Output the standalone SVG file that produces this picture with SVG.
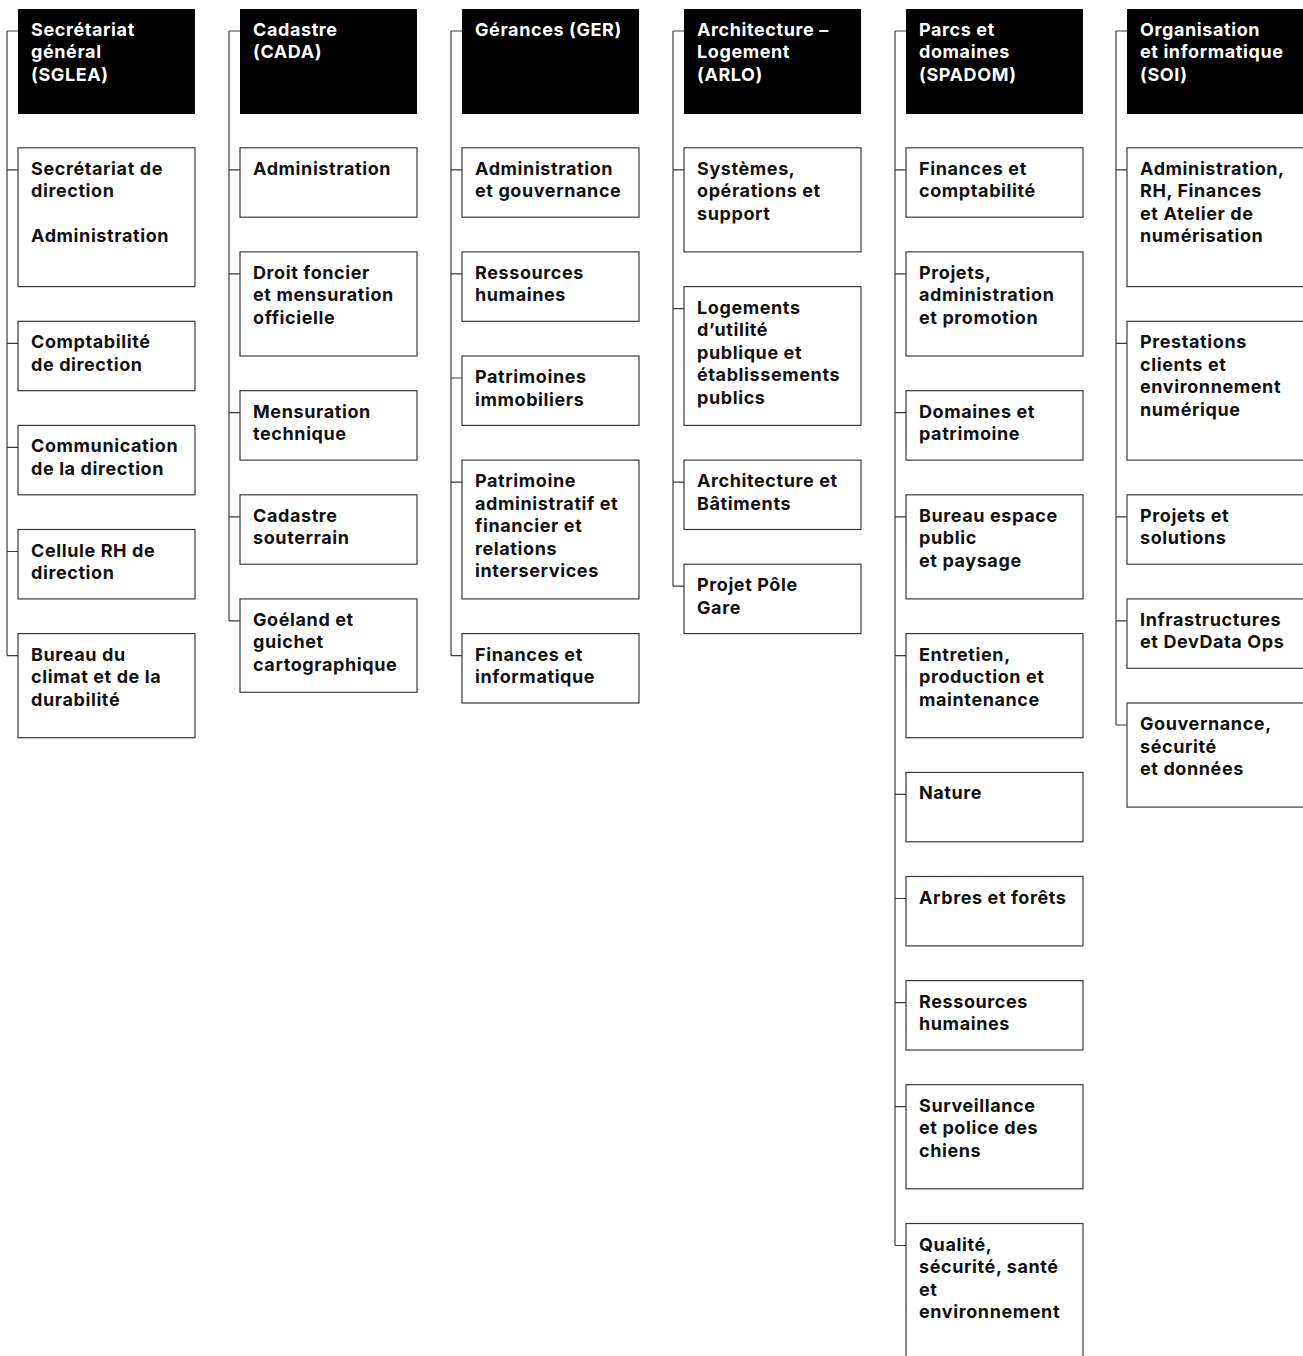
<svg xmlns="http://www.w3.org/2000/svg" width="1303" height="1356" viewBox="0 0 1303 1356">
<style>
.hd{fill:#000}
.bx{fill:#fff;stroke:#3a3a3a;stroke-width:1.2}
.ln{fill:none;stroke:#3a3a3a;stroke-width:1.2}
text{font-family:Inter,"Liberation Sans",sans-serif;font-weight:700;font-size:18px;letter-spacing:0.6px}
.w{fill:#fff}
.k{fill:#111}
</style>
<rect width="1303" height="1356" fill="#fff"/>
<g id="connectors">
<path class="ln" d="M7,31V655.6M7,31H18M7,169.8H18M7,343.3H18M7,447.4H18M7,551.5H18M7,655.6H18"/>
<path class="ln" d="M229,31V620.9M229,31H240M229,169.8H240M229,273.9H240M229,412.7H240M229,516.8H240M229,620.9H240"/>
<path class="ln" d="M451,31V655.6M451,31H462M451,169.8H462M451,273.9H462M451,378H462M451,482.1H462M451,655.6H462"/>
<path class="ln" d="M673,31V586.2M673,31H684M673,169.8H684M673,308.6H684M673,482.1H684M673,586.2H684"/>
<path class="ln" d="M895,31V1245.5M895,31H906M895,169.8H906M895,273.9H906M895,412.7H906M895,516.8H906M895,655.6H906M895,794.4H906M895,898.5H906M895,1002.6H906M895,1106.7H906M895,1245.5H906"/>
<path class="ln" d="M1116,31V725M1116,31H1127M1116,169.8H1127M1116,343.3H1127M1116,516.8H1127M1116,620.9H1127M1116,725H1127"/>
</g>
<!-- Column 1 -->
<g id="sglea"><rect class="hd" x="18" y="9" width="177" height="105"/><text class="w"><tspan x="31" y="35.5">Secrétariat</tspan><tspan x="31" y="58">général</tspan><tspan x="31" y="80.5">(SGLEA)</tspan></text></g>
<g id="sglea-1"><rect class="bx" x="18" y="147.8" width="177" height="138.8"/><text class="k"><tspan x="31" y="174.8">Secrétariat de</tspan><tspan x="31" y="197.3">direction</tspan><tspan x="31" y="242.3">Administration</tspan></text></g>
<g id="sglea-2"><rect class="bx" x="18" y="321.3" width="177" height="69.4"/><text class="k"><tspan x="31" y="348.3">Comptabilité</tspan><tspan x="31" y="370.8">de direction</tspan></text></g>
<g id="sglea-3"><rect class="bx" x="18" y="425.4" width="177" height="69.4"/><text class="k"><tspan x="31" y="452.4">Communication</tspan><tspan x="31" y="474.9">de la direction</tspan></text></g>
<g id="sglea-4"><rect class="bx" x="18" y="529.5" width="177" height="69.4"/><text class="k"><tspan x="31" y="556.5">Cellule RH de</tspan><tspan x="31" y="579">direction</tspan></text></g>
<g id="sglea-5"><rect class="bx" x="18" y="633.6" width="177" height="104.1"/><text class="k"><tspan x="31" y="660.6">Bureau du</tspan><tspan x="31" y="683.1">climat et de la</tspan><tspan x="31" y="705.6">durabilité</tspan></text></g>
<!-- Column 2 -->
<g id="cada"><rect class="hd" x="240" y="9" width="177" height="105"/><text class="w"><tspan x="253" y="35.5">Cadastre</tspan><tspan x="253" y="58">(CADA)</tspan></text></g>
<g id="cada-1"><rect class="bx" x="240" y="147.8" width="177" height="69.4"/><text class="k"><tspan x="253" y="174.8">Administration</tspan></text></g>
<g id="cada-2"><rect class="bx" x="240" y="251.9" width="177" height="104.1"/><text class="k"><tspan x="253" y="278.9">Droit foncier</tspan><tspan x="253" y="301.4">et mensuration</tspan><tspan x="253" y="323.9">officielle</tspan></text></g>
<g id="cada-3"><rect class="bx" x="240" y="390.7" width="177" height="69.4"/><text class="k"><tspan x="253" y="417.7">Mensuration</tspan><tspan x="253" y="440.2">technique</tspan></text></g>
<g id="cada-4"><rect class="bx" x="240" y="494.8" width="177" height="69.4"/><text class="k"><tspan x="253" y="521.8">Cadastre</tspan><tspan x="253" y="544.3">souterrain</tspan></text></g>
<g id="cada-5"><rect class="bx" x="240" y="598.9" width="177" height="93.4"/><text class="k"><tspan x="253" y="625.9">Goéland et</tspan><tspan x="253" y="648.4">guichet</tspan><tspan x="253" y="670.9">cartographique</tspan></text></g>
<!-- Column 3 -->
<g id="ger"><rect class="hd" x="462" y="9" width="177" height="105"/><text class="w"><tspan x="475" y="35.5">Gérances (GER)</tspan></text></g>
<g id="ger-1"><rect class="bx" x="462" y="147.8" width="177" height="69.4"/><text class="k"><tspan x="475" y="174.8">Administration</tspan><tspan x="475" y="197.3">et gouvernance</tspan></text></g>
<g id="ger-2"><rect class="bx" x="462" y="251.9" width="177" height="69.4"/><text class="k"><tspan x="475" y="278.9">Ressources</tspan><tspan x="475" y="301.4">humaines</tspan></text></g>
<g id="ger-3"><rect class="bx" x="462" y="356" width="177" height="69.4"/><text class="k"><tspan x="475" y="383">Patrimoines</tspan><tspan x="475" y="405.5">immobiliers</tspan></text></g>
<g id="ger-4"><rect class="bx" x="462" y="460.1" width="177" height="138.8"/><text class="k"><tspan x="475" y="487.1">Patrimoine</tspan><tspan x="475" y="509.6">administratif et</tspan><tspan x="475" y="532.1">financier et</tspan><tspan x="475" y="554.6">relations</tspan><tspan x="475" y="577.1">interservices</tspan></text></g>
<g id="ger-5"><rect class="bx" x="462" y="633.6" width="177" height="69.4"/><text class="k"><tspan x="475" y="660.6">Finances et</tspan><tspan x="475" y="683.1">informatique</tspan></text></g>
<!-- Column 4 -->
<g id="arlo"><rect class="hd" x="684" y="9" width="177" height="105"/><text class="w"><tspan x="697" y="35.5">Architecture –</tspan><tspan x="697" y="58">Logement</tspan><tspan x="697" y="80.5">(ARLO)</tspan></text></g>
<g id="arlo-1"><rect class="bx" x="684" y="147.8" width="177" height="104.1"/><text class="k"><tspan x="697" y="174.8">Systèmes,</tspan><tspan x="697" y="197.3">opérations et</tspan><tspan x="697" y="219.8">support</tspan></text></g>
<g id="arlo-2"><rect class="bx" x="684" y="286.6" width="177" height="138.8"/><text class="k"><tspan x="697" y="313.6">Logements</tspan><tspan x="697" y="336.1">d’utilité</tspan><tspan x="697" y="358.6">publique et</tspan><tspan x="697" y="381.1">établissements</tspan><tspan x="697" y="403.6">publics</tspan></text></g>
<g id="arlo-3"><rect class="bx" x="684" y="460.1" width="177" height="69.4"/><text class="k"><tspan x="697" y="487.1">Architecture et</tspan><tspan x="697" y="509.6">Bâtiments</tspan></text></g>
<g id="arlo-4"><rect class="bx" x="684" y="564.2" width="177" height="69.4"/><text class="k"><tspan x="697" y="591.2">Projet Pôle</tspan><tspan x="697" y="613.7">Gare</tspan></text></g>
<!-- Column 5 -->
<g id="spadom"><rect class="hd" x="906" y="9" width="177" height="105"/><text class="w"><tspan x="919" y="35.5">Parcs et</tspan><tspan x="919" y="58">domaines</tspan><tspan x="919" y="80.5">(SPADOM)</tspan></text></g>
<g id="spadom-1"><rect class="bx" x="906" y="147.8" width="177" height="69.4"/><text class="k"><tspan x="919" y="174.8">Finances et</tspan><tspan x="919" y="197.3">comptabilité</tspan></text></g>
<g id="spadom-2"><rect class="bx" x="906" y="251.9" width="177" height="104.1"/><text class="k"><tspan x="919" y="278.9">Projets,</tspan><tspan x="919" y="301.4">administration</tspan><tspan x="919" y="323.9">et promotion</tspan></text></g>
<g id="spadom-3"><rect class="bx" x="906" y="390.7" width="177" height="69.4"/><text class="k"><tspan x="919" y="417.7">Domaines et</tspan><tspan x="919" y="440.2">patrimoine</tspan></text></g>
<g id="spadom-4"><rect class="bx" x="906" y="494.8" width="177" height="104.1"/><text class="k"><tspan x="919" y="521.8">Bureau espace</tspan><tspan x="919" y="544.3">public</tspan><tspan x="919" y="566.8">et paysage</tspan></text></g>
<g id="spadom-5"><rect class="bx" x="906" y="633.6" width="177" height="104.1"/><text class="k"><tspan x="919" y="660.6">Entretien,</tspan><tspan x="919" y="683.1">production et</tspan><tspan x="919" y="705.6">maintenance</tspan></text></g>
<g id="spadom-6"><rect class="bx" x="906" y="772.4" width="177" height="69.4"/><text class="k"><tspan x="919" y="799.4">Nature</tspan></text></g>
<g id="spadom-7"><rect class="bx" x="906" y="876.5" width="177" height="69.4"/><text class="k"><tspan x="919" y="903.5">Arbres et forêts</tspan></text></g>
<g id="spadom-8"><rect class="bx" x="906" y="980.6" width="177" height="69.4"/><text class="k"><tspan x="919" y="1007.6">Ressources</tspan><tspan x="919" y="1030.1">humaines</tspan></text></g>
<g id="spadom-9"><rect class="bx" x="906" y="1084.7" width="177" height="104.1"/><text class="k"><tspan x="919" y="1111.7">Surveillance</tspan><tspan x="919" y="1134.2">et police des</tspan><tspan x="919" y="1156.7">chiens</tspan></text></g>
<g id="spadom-10"><rect class="bx" x="906" y="1223.5" width="177" height="138.8"/><text class="k"><tspan x="919" y="1250.5">Qualité,</tspan><tspan x="919" y="1273">sécurité, santé</tspan><tspan x="919" y="1295.5">et</tspan><tspan x="919" y="1318">environnement</tspan></text></g>
<!-- Column 6 -->
<g id="soi"><rect class="hd" x="1127" y="9" width="177" height="105"/><text class="w"><tspan x="1140" y="35.5">Organisation</tspan><tspan x="1140" y="58">et informatique</tspan><tspan x="1140" y="80.5">(SOI)</tspan></text></g>
<g id="soi-1"><rect class="bx" x="1127" y="147.8" width="177" height="138.8"/><text class="k"><tspan x="1140" y="174.8">Administration,</tspan><tspan x="1140" y="197.3">RH, Finances</tspan><tspan x="1140" y="219.8">et Atelier de</tspan><tspan x="1140" y="242.3">numérisation</tspan></text></g>
<g id="soi-2"><rect class="bx" x="1127" y="321.3" width="177" height="138.8"/><text class="k"><tspan x="1140" y="348.3">Prestations</tspan><tspan x="1140" y="370.8">clients et</tspan><tspan x="1140" y="393.3">environnement</tspan><tspan x="1140" y="415.8">numérique</tspan></text></g>
<g id="soi-3"><rect class="bx" x="1127" y="494.8" width="177" height="69.4"/><text class="k"><tspan x="1140" y="521.8">Projets et</tspan><tspan x="1140" y="544.3">solutions</tspan></text></g>
<g id="soi-4"><rect class="bx" x="1127" y="598.9" width="177" height="69.4"/><text class="k"><tspan x="1140" y="625.9">Infrastructures</tspan><tspan x="1140" y="648.4">et DevData Ops</tspan></text></g>
<g id="soi-5"><rect class="bx" x="1127" y="703" width="177" height="104.1"/><text class="k"><tspan x="1140" y="730">Gouvernance,</tspan><tspan x="1140" y="752.5">sécurité</tspan><tspan x="1140" y="775">et données</tspan></text></g>
</svg>
